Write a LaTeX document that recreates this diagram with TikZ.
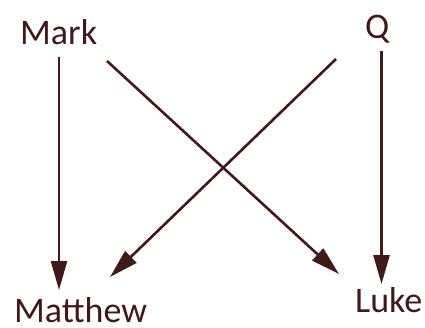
\documentclass[tikz,border=0pt]{standalone}
\usepackage{fontspec}
\setmainfont{Carlito}
\usepackage{xcolor}
\usepackage{tikz}
\usetikzlibrary{arrows.meta}
\definecolor{inkbrown}{RGB}{62,26,26}
\tikzset{
  gospel/.style = {inner sep=0pt, anchor=base west, text=inkbrown, font=\fontsize{36}{40}\selectfont},
  dep/.style    = {-{Triangle[length=29pt,width=16pt]}, line width=2.6pt, draw=inkbrown},
}
\begin{document}
\begin{tikzpicture}[x=1pt, y=-1pt]
  \useasboundingbox (0,0) rectangle (425,327);
  \node[gospel] (mark) at (20,44) {Mark};
  \node[gospel] (q) at (365,38) {Q};
  \node[gospel] (matthew) at (14,322) {Matthew};
  \node[gospel] (luke) at (355,312) {Luke};
  \draw[dep] ([shift={(39,13)}]mark.base west) -- ([shift={(45,-32)}]matthew.base west);
  \draw[dep] ([shift={(87,17)}]mark.base west) -- ([shift={(-16,-38)}]luke.base west);
  \draw[dep] ([shift={(-29,21)}]q.base west) -- ([shift={(96,-45)}]matthew.base west);
  \draw[dep] ([shift={(16.5,13)}]q.base west) -- ([shift={(26.5,-28)}]luke.base west);
\end{tikzpicture}
\end{document}
